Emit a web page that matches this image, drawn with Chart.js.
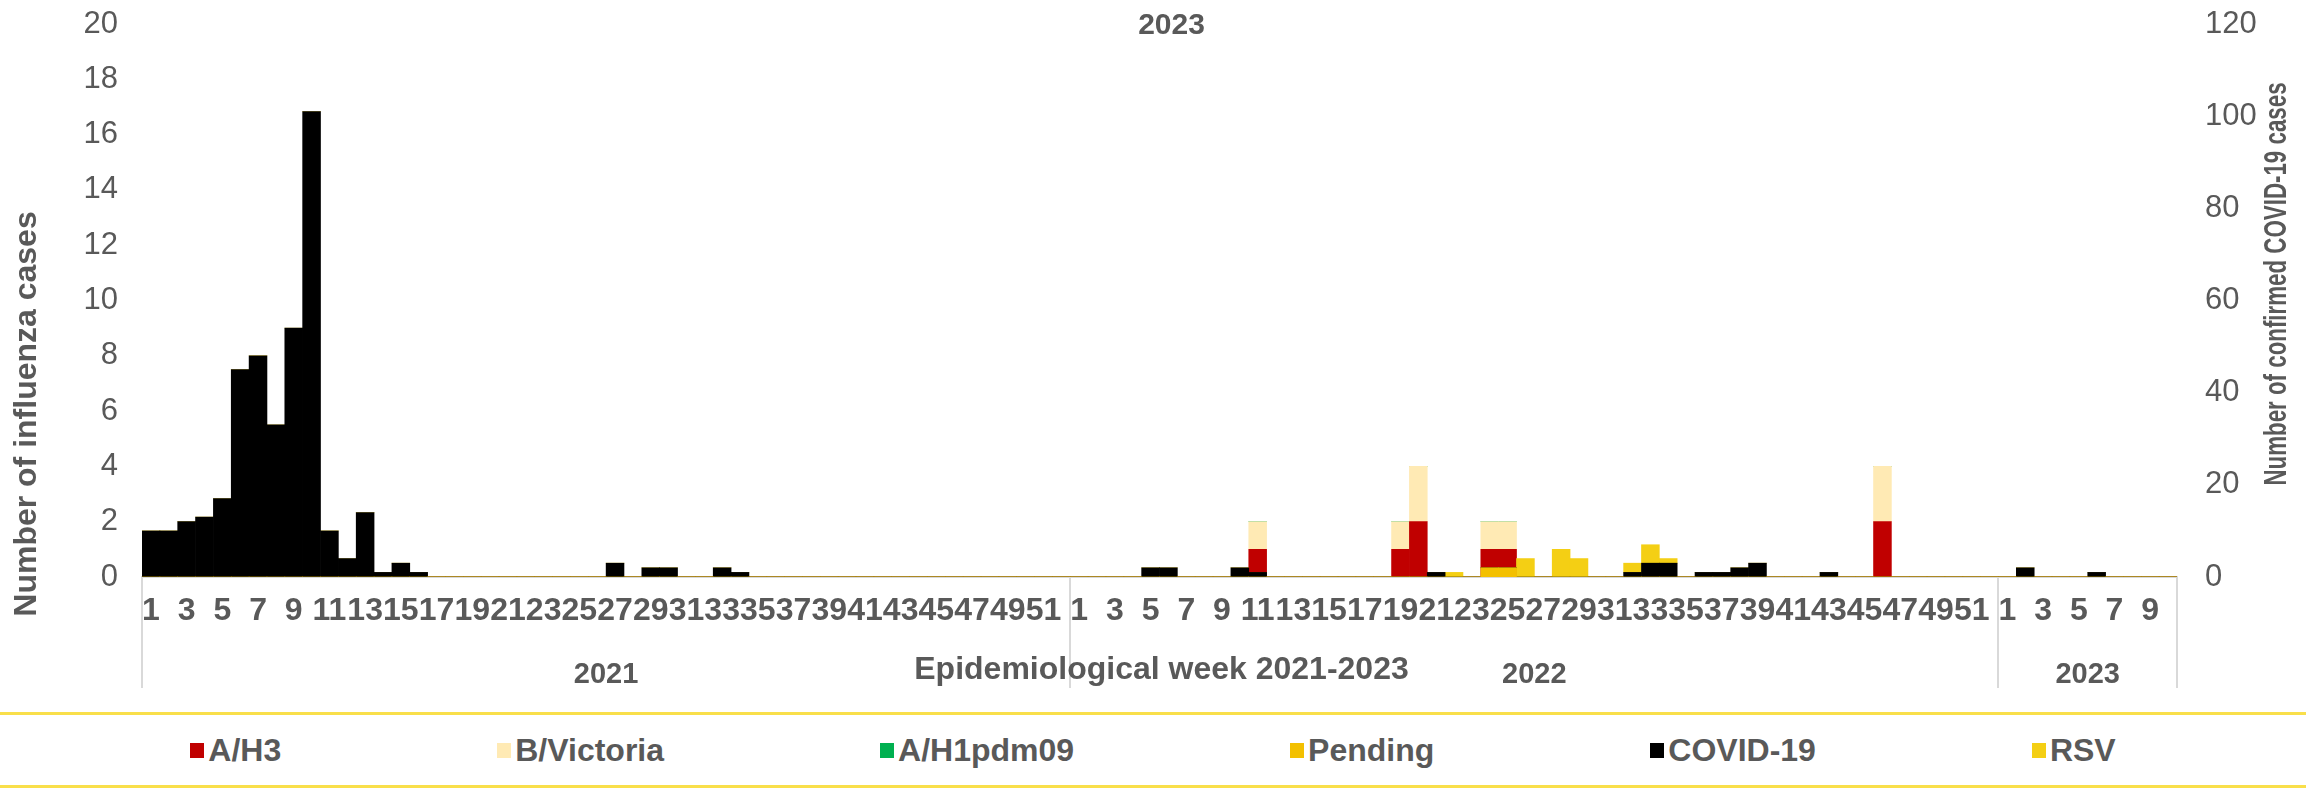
<!DOCTYPE html>
<html>
<head>
<meta charset="utf-8">
<title>2023</title>
<script src="https://cdn.jsdelivr.net/npm/chart.js@4.4.1/dist/chart.umd.min.js"></script>
<style>
  html, body { margin: 0; padding: 0; background: #fff; }
  body { width: 2306px; height: 791px; position: relative; overflow: hidden; font-family: "Liberation Sans", Arial, sans-serif; }
  #wrap { position: absolute; left: 0; top: 0; width: 2306px; height: 705px; }
  #legend {
    position: absolute; left: 0; top: 712px; width: 2306px; height: 76px;
    box-sizing: border-box; padding-right: 0;
    border-top: 3px solid #F9DF4A; border-bottom: 3px solid #F9DF4A;
    display: flex; justify-content: center; align-items: center; gap: 216px;
    color: #595959; font-weight: bold; font-size: 32px;
  }
  .item { display: flex; align-items: center; white-space: nowrap; }
  .box { width: 14px; height: 15px; margin-right: 4px; }
</style>
</head>
<body>
<div id="wrap"><canvas id="chart"></canvas></div>
<div id="legend"></div>

<script>
// categories
const yearNames = ["2021", "2022", "2023"];
const weeksInYear = [52, 52, 10];
const chartTitle = "2023";
const xTitle = "Epidemiological week 2021-2023";
const yTitle = "Number of influenza cases";
const y2Title = "Number of confirmed COVID-19 cases";

// influenza (left axis), one value per week
const ah3_2021 = [0,0,0,0, 0,0,0,0, 0,0,0,0, 0,0,0,0, 0,0,0,0, 0,0,0,0, 0,0,0,0, 0,0,0,0, 0,0,0,0, 0,0,0,0, 0,0,0,0, 0,0,0,0, 0,0,0,0];
const ah3_2022 = [0,0,0,0, 0,0,0,0, 0,0,1,0, 0,0,0,0, 0,0,1,2, 0,0,0,1, 1,0,0,0, 0,0,0,0, 0,0,0,0, 0,0,0,0, 0,0,0,0, 0,2,0,0, 0,0,0,0];
const ah3_2023 = [0,0,0,0,0,0,0,0,0,0];

const bvic_2021 = [0,0,0,0, 0,0,0,0, 0,0,0,0, 0,0,0,0, 0,0,0,0, 0,0,0,0, 0,0,0,0, 0,0,0,0, 0,0,0,0, 0,0,0,0, 0,0,0,0, 0,0,0,0, 0,0,0,0];
const bvic_2022 = [0,0,0,0, 0,0,0,0, 0,0,1,0, 0,0,0,0, 0,0,1,2, 0,0,0,1, 1,0,0,0, 0,0,0,0, 0,0,0,0, 0,0,0,0, 0,0,0,0, 0,2,0,0, 0,0,0,0];
const bvic_2023 = [0,0,0,0,0,0,0,0,0,0];

const ah1_2021 = [0,0,0,0, 0,0,0,0, 0,0,0,0, 0,0,0,0, 0,0,0,0, 0,0,0,0, 0,0,0,0, 0,0,0,0, 0,0,0,0, 0,0,0,0, 0,0,0,0, 0,0,0,0, 0,0,0,0];
const ah1_2022 = [0,0,0,0, 0,0,0,0, 0,0,0,0, 0,0,0,0, 0,0,0,0, 0,0,0,0, 0,0,0,0, 0,0,0,0, 0,0,0,0, 0,0,0,0, 0,0,0,0, 0,0,0,0, 0,0,0,0];
const ah1_2023 = [0,0,0,0,0,0,0,0,0,0];

// right axis series (cases)
const pending_2021 = [0,0,0,0, 0,0,0,0, 0,0,0,0, 0,0,0,0, 0,0,0,0, 0,0,0,0, 0,0,0,0, 0,0,0,0, 0,0,0,0, 0,0,0,0, 0,0,0,0, 0,0,0,0, 0,0,0,0];
const pending_2022 = [0,0,0,0, 0,0,0,0, 0,0,0,0, 0,0,0,0, 0,0,0,0, 0,0,0,2, 2,0,0,0, 0,0,0,0, 0,0,0,0, 0,0,0,0, 0,0,0,0, 0,0,0,0, 0,0,0,0];
const pending_2023 = [0,0,0,0,0,0,0,0,0,0];

const covid_2021 = [10,10,12,13, 17,45,48,33, 54,101,10,4, 14,1,3,1, 0,0,0,0, 0,0,0,0, 0,0,3,0, 2,2,0,0, 2,1,0,0, 0,0,0,0, 0,0,0,0, 0,0,0,0, 0,0,0,0];
const covid_2022 = [0,0,0,0, 2,2,0,0, 0,2,1,0, 0,0,0,0, 0,0,0,0, 1,0,0,0, 0,0,0,0, 0,0,0,1, 3,3,0,1, 1,2,3,0, 0,0,1,0, 0,0,0,0, 0,0,0,0];
const covid_2023 = [0,2,0,0,0,1,0,0,0,0];

const rsv_2021 = [0,0,0,0, 0,0,0,0, 0,0,0,0, 0,0,0,0, 0,0,0,0, 0,0,0,0, 0,0,0,0, 0,0,0,0, 0,0,0,0, 0,0,0,0, 0,0,0,0, 0,0,0,0, 0,0,0,0];
const rsv_2022 = [0,0,0,0, 0,0,0,0, 0,0,0,0, 0,0,0,0, 0,0,0,0, 0,1,0,0, 0,4,0,6, 4,0,0,2, 4,1,0,0, 0,0,0,0, 0,0,0,0, 0,0,0,0, 0,0,0,0];
const rsv_2023 = [0,0,0,0,0,0,0,0,0,0];

const TEXT = "#595959";
const FONT = '"Liberation Sans", Arial, sans-serif';

// week labels 1..n for every year
const weekLabels = [];
weeksInYear.forEach((n) => {
  for (let w = 1; w <= n; w++) weekLabels.push(String(w));
});

function drawRotated(ctx, text, x, y, squeeze) {
  ctx.save();
  ctx.translate(x, y);
  ctx.rotate(-Math.PI / 2);
  ctx.scale(squeeze, 1);
  ctx.fillText(text, 0, 0);
  ctx.restore();
}

const extras = {
  id: "extras",
  afterDraw(chart) {
    const { ctx, chartArea, scales } = chart;
    const x = scales.x;
    const half = (x.getPixelForValue(1) - x.getPixelForValue(0)) / 2;
    ctx.save();

    // year dividers under the axis
    ctx.strokeStyle = "#D9D9D9";
    ctx.lineWidth = 2;
    let idx = 0;
    const edges = [x.getPixelForValue(0) - half];
    weeksInYear.forEach((n) => {
      idx += n;
      edges.push(x.getPixelForValue(idx - 1) + half);
    });
    edges.forEach((px) => {
      ctx.beginPath();
      ctx.moveTo(Math.round(px), chartArea.bottom);
      ctx.lineTo(Math.round(px), 688);
      ctx.stroke();
    });

    // year labels + axis title
    ctx.fillStyle = TEXT;
    ctx.textAlign = "center";
    ctx.textBaseline = "middle";
    ctx.font = `bold 29px ${FONT}`;
    yearNames.forEach((y, k) => {
      ctx.fillText(y, (edges[k] + edges[k + 1]) / 2, 675);
    });
    ctx.font = `bold 32px ${FONT}`;
    ctx.fillText(xTitle, (chartArea.left + chartArea.right) / 2 + 2, 670);

    // chart title
    ctx.font = `bold 30px ${FONT}`;
    ctx.fillText(chartTitle, (chartArea.left + chartArea.right) / 2 + 12, 26);

    // y titles (both read bottom to top)
    ctx.font = `bold 32px ${FONT}`;
    drawRotated(ctx, yTitle, 27, 414, 1);
    ctx.font = `bold 31px ${FONT}`;
    drawRotated(ctx, y2Title, 2277, 284, 0.72);

    ctx.restore();
  },
};

const ctx = document.getElementById("chart").getContext("2d");
const chart = new Chart(ctx, {
  type: "bar",
  data: {
    labels: weekLabels,
    datasets: [
      { label: "A/H3", data: [...ah3_2021, ...ah3_2022, ...ah3_2023], backgroundColor: "#C00000", yAxisID: "y", order: 1 },
      { label: "B/Victoria", data: [...bvic_2021, ...bvic_2022, ...bvic_2023], backgroundColor: "#FFEAB4", yAxisID: "y", order: 1 },
      { label: "A/H1pdm09", data: [...ah1_2021, ...ah1_2022, ...ah1_2023], backgroundColor: "#00B050", yAxisID: "y", order: 1 },
      { label: "Pending", data: [...pending_2021, ...pending_2022, ...pending_2023], backgroundColor: "#F3C000", yAxisID: "y2", order: 0 },
      { label: "COVID-19", data: [...covid_2021, ...covid_2022, ...covid_2023], backgroundColor: "#000000", yAxisID: "y2", order: 0 },
      { label: "RSV", data: [...rsv_2021, ...rsv_2022, ...rsv_2023], backgroundColor: "#F4CF14", yAxisID: "y2", order: 0 },
    ].map((d) => ({ ...d, stack: "all", borderWidth: 0, barPercentage: 1, categoryPercentage: 1 })),
  },
  options: {
    responsive: true,
    maintainAspectRatio: false,
    animation: false,
    layout: { padding: { top: 24, left: 0, right: 0, bottom: 0 } },
    plugins: {
      legend: { display: false },
      tooltip: { enabled: false },
    },
    scales: {
      x: {
        stacked: true,
        grid: { display: false, drawTicks: false },
        border: { display: true, color: "#D9D9D9", width: 2 },
        ticks: {
          autoSkip: false,
          maxRotation: 0,
          minRotation: 0,
          padding: 15,
          color: TEXT,
          font: { family: FONT, size: 32, weight: "bold" },
          callback: function (value, index) {
            return index % 2 === 0 ? this.getLabelForValue(value) : "";
          },
        },
        afterFit: (scale) => { scale.height = 128; },
      },
      y: {
        position: "left",
        stacked: true,
        min: 0,
        max: 20,
        grid: { display: false, drawTicks: false },
        border: { display: false },
        ticks: { stepSize: 2, padding: 24, color: TEXT, font: { family: FONT, size: 31 } },
        afterFit: (scale) => { scale.width = 142; scale.paddingTop = 0; scale.paddingBottom = 0; },
      },
      y2: {
        position: "right",
        stacked: true,
        min: 0,
        max: 120,
        grid: { display: false, drawTicks: false },
        border: { display: false },
        ticks: { stepSize: 20, padding: 28, color: TEXT, font: { family: FONT, size: 31 } },
        afterFit: (scale) => { scale.width = 129; scale.paddingTop = 0; scale.paddingBottom = 0; },
      },
    },
  },
  plugins: [extras],
});

// legend in dataset order
const legendEl = document.getElementById("legend");
chart.data.datasets.forEach((ds) => {
  const item = document.createElement("div");
  item.className = "item";
  item.innerHTML = `<span class="box" style="background:${ds.backgroundColor}"></span>${ds.label}`;
  legendEl.appendChild(item);
});
</script>
</body>
</html>
